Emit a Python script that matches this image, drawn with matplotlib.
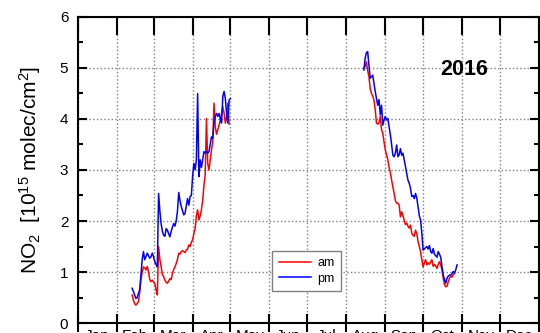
import numpy as np
import matplotlib
matplotlib.use('Agg')
import matplotlib.pyplot as plt
from matplotlib.ticker import FixedLocator, MultipleLocator, NullFormatter, FixedFormatter

plt.rcParams['font.family'] = ['Liberation Sans', 'DejaVu Sans']
plt.rcParams['mathtext.fontset'] = 'custom'
plt.rcParams['mathtext.rm'] = 'Liberation Sans'
plt.rcParams['mathtext.it'] = 'Liberation Sans:italic'

# months of 2016 (leap year), day-of-year positions of month starts
months = ['Jan', 'Feb', 'Mar', 'Apr', 'May', 'Jun',
          'Jul', 'Aug', 'Sep', 'Oct', 'Nov', 'Dec']
month_starts = [0, 31, 60, 91, 121, 152, 182, 213, 244, 274, 305, 335, 366]

# am (red) series, spring and autumn pieces, one value per day
am_spring_start = 43
am_spring = [0.55, 0.45, 0.38, 0.35, 0.38, 0.42, 0.60, 0.84, 1.00, 1.10,
             1.08, 1.04, 1.11, 1.00, 0.85, 0.81, 0.84, 0.80, 0.77, 0.65,
             0.55, 1.50, 1.25, 1.11, 0.95, 0.91, 0.84, 0.80, 0.78, 0.82,
             0.87, 0.85, 0.97, 1.05, 1.10, 1.17, 1.25, 1.37, 1.35, 1.40,
             1.42, 1.40, 1.38, 1.43, 1.45, 1.53, 1.50, 1.58, 1.63, 1.75,
             1.85, 2.10, 2.22, 2.02, 2.10, 2.22, 2.40, 2.70, 2.90, 4.01,
             3.13, 3.00, 3.20, 3.39, 3.55, 4.31, 3.85, 3.70, 3.79, 3.88,
             3.98, 4.10, 4.24, 4.11, 3.92, 4.05, 4.31, 3.90]
am_autumn_start = 227
am_autumn = [5.00, 5.03, 5.12, 4.95, 4.83, 4.60, 4.50, 4.45, 4.37, 4.18,
             3.92, 3.90, 3.92, 4.05, 3.79, 3.72, 3.55, 3.39, 3.30, 3.20,
             3.05, 2.95, 2.80, 2.67, 2.54, 2.40, 2.35, 2.35, 2.31, 2.08,
             2.18, 2.10, 2.02, 1.93, 1.96, 1.90, 1.86, 1.92, 1.76, 1.72,
             1.70, 1.82, 1.75, 1.60, 1.50, 1.40, 1.24, 1.10, 1.18, 1.24,
             1.14, 1.18, 1.15, 1.20, 1.24, 1.11, 1.15, 1.12, 1.07, 1.15,
             1.20, 1.14, 1.04, 0.88, 0.75, 0.71, 0.72, 0.81, 0.88, 0.92,
             0.90, 0.95, 0.97]

# pm (blue) series
pm_spring_start = 43
pm_spring = [0.68, 0.62, 0.55, 0.48, 0.50, 0.58, 0.65, 0.95, 1.25, 1.40,
             1.24, 1.30, 1.37, 1.32, 1.27, 1.30, 1.37, 1.30, 1.20, 1.15,
             1.10, 2.54, 2.20, 1.95, 1.80, 1.72, 1.70, 1.85, 1.82, 1.75,
             1.69, 1.80, 1.88, 1.95, 1.90, 2.00, 2.20, 2.56, 2.40, 2.28,
             2.20, 2.12, 2.15, 2.30, 2.44, 2.31, 2.48, 2.50, 2.87, 3.13,
             3.00, 3.20, 4.50, 2.87, 3.20, 3.05, 3.20, 3.36, 3.33, 3.36,
             3.33, 3.36, 3.50, 3.65, 3.62, 3.92, 4.05, 4.11, 4.05, 4.11,
             4.00, 3.92, 4.45, 4.54, 4.40, 4.10, 3.92, 4.37, 4.40]
pm_autumn_start = 227
pm_autumn = [4.96, 5.19, 5.30, 5.32, 5.05, 4.80, 4.83, 4.86, 4.70, 4.54,
             4.40, 4.27, 4.38, 4.08, 4.27, 3.88, 3.98, 4.05, 3.98, 4.01,
             3.85, 3.69, 3.50, 3.29, 3.26, 3.33, 3.49, 3.26, 3.30, 3.42,
             3.29, 3.33, 3.20, 3.07, 2.93, 2.80, 2.74, 2.64, 2.48, 2.50,
             2.44, 2.54, 2.45, 2.28, 2.10, 2.02, 1.76, 1.43, 1.45, 1.48,
             1.50, 1.45, 1.52, 1.40, 1.37, 1.46, 1.35, 1.32, 1.29, 1.40,
             1.35, 1.29, 1.10, 0.94, 0.85, 0.78, 0.88, 0.92, 0.94, 0.94,
             0.97, 1.01, 0.98, 1.05, 1.14]


def days(start, values):
    return np.arange(start, start + len(values))


fig = plt.figure(figsize=(5.4, 3.33), dpi=100)
ax = fig.add_axes([0.1444, 0.030, 0.8537, 0.919])

# draw the curves
ax.plot(days(am_spring_start, am_spring), am_spring, color='#ff0000', lw=1.1, label='am')
ax.plot(days(pm_spring_start, pm_spring), pm_spring, color='#0000ff', lw=1.1, label='pm')
ax.plot(days(am_autumn_start, am_autumn), am_autumn, color='#ff0000', lw=1.1)
ax.plot(days(pm_autumn_start, pm_autumn), pm_autumn, color='#0000ff', lw=1.1)

ax.set_xlim(0, 366)
ax.set_ylim(0, 6)

# x axis: ticks at month starts, labels at month centres
ax.xaxis.set_major_locator(FixedLocator(month_starts))
ax.xaxis.set_major_formatter(NullFormatter())
centres = [(a + b) / 2 for a, b in zip(month_starts[:-1], month_starts[1:])]
ax.xaxis.set_minor_locator(FixedLocator(centres))
ax.xaxis.set_minor_formatter(FixedFormatter(months))

ax.yaxis.set_major_locator(MultipleLocator(1))
ax.yaxis.set_minor_locator(MultipleLocator(0.5))

ax.tick_params(axis='x', which='major', direction='inout', length=13, width=1.5,
               top=True, bottom=True)
ax.tick_params(axis='x', which='minor', length=0, pad=4.2, labelsize=11)
ax.tick_params(axis='y', which='major', direction='in', length=6.5, width=1.5,
               left=True, right=True, pad=7, labelsize=11)
ax.tick_params(axis='y', which='minor', direction='in', length=3.5, width=1.5,
               left=True, right=True)
# top ticks inward only
for tick in ax.xaxis.get_major_ticks():
    tick.tick2line.set_marker(3)

for s in ax.spines.values():
    s.set_linewidth(1.5)

ax.grid(True, which='major', color='#808080', linestyle=':', linewidth=1.0)

fig.text(30 / 540, 0.49, r'NO$_2$  [10$^{15}$ molec/cm$^2$]', rotation=90,
         ha='center', va='center', fontsize=15)

ax.text(306.5, 4.97, '2016', fontsize=15.5, fontweight='bold', ha='center', va='center')

leg = ax.legend(loc='center', bbox_to_anchor=(0.496, 0.170), fontsize=9,
                handlelength=2.6, fancybox=False, framealpha=1,
                edgecolor='#808080', borderpad=0.5, labelspacing=0.3,
                handletextpad=0.5)
leg.get_frame().set_linewidth(1.0)

fig.savefig('out.png', dpi=100)
